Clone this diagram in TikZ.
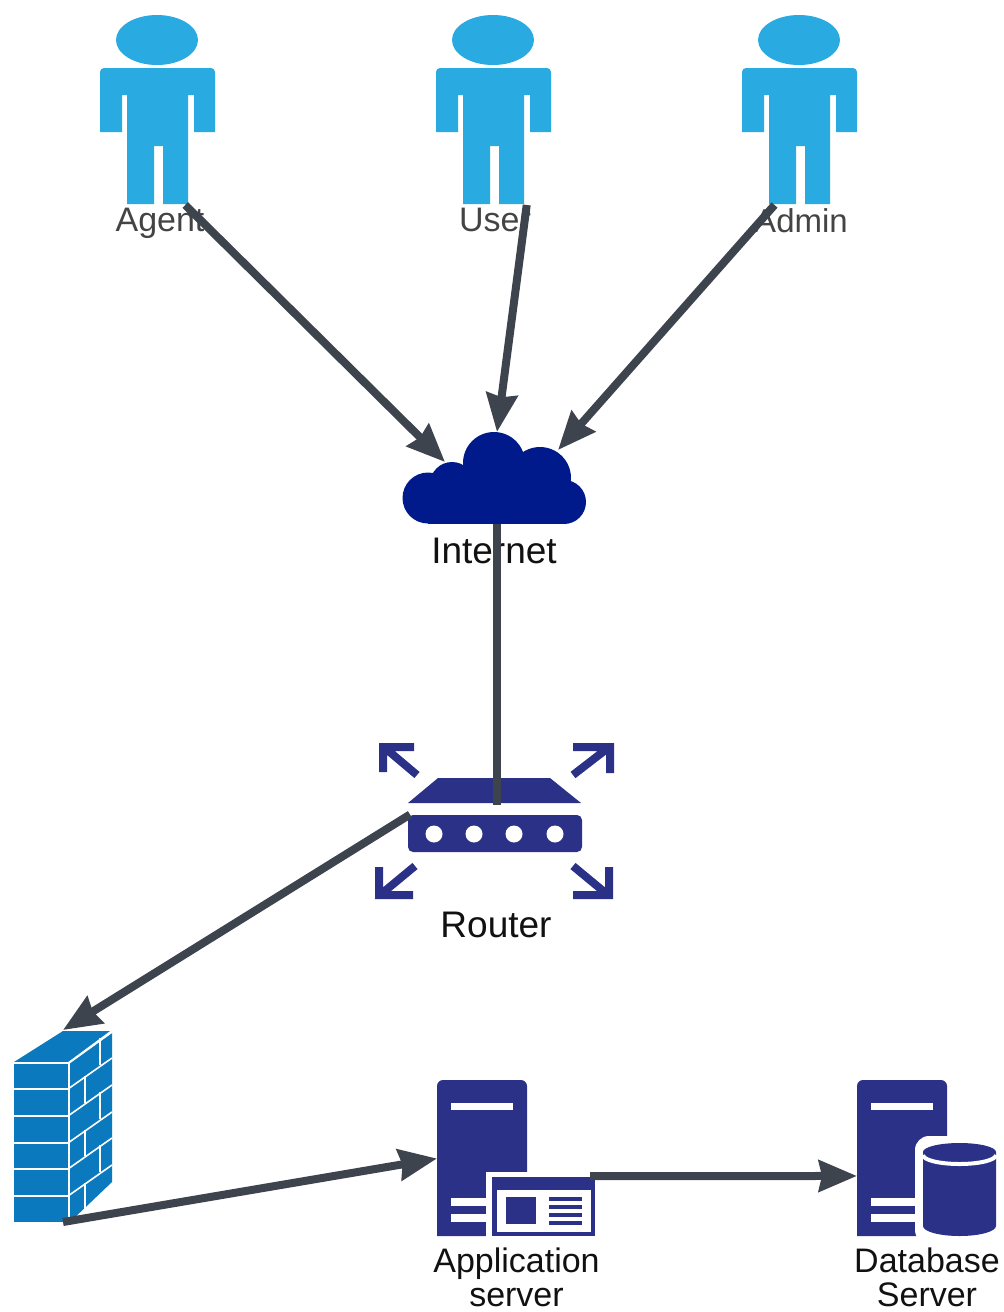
\documentclass[tikz,border=0pt]{standalone}
\usepackage{fontspec}
\setmainfont{Liberation Sans}
\usepackage{xcolor}
\usetikzlibrary{positioning, arrows.meta}
\definecolor{personblue}{HTML}{29ABE2}
\definecolor{cloudblue}{HTML}{001A8C}
\definecolor{iconblue}{HTML}{2B3187}
\definecolor{wallblue}{HTML}{0A79BD}
\definecolor{linegrey}{HTML}{3D444D}
\definecolor{softtext}{HTML}{444444}
\definecolor{darktext}{HTML}{111111}

% person icon, #1 = centre x
\newcommand{\personicon}[1]{
	\begin{scope}[shift={(#1,110)}]
		\fill[personblue] (-1,-70) ellipse [x radius=41, y radius=25];
		\fill[personblue] (-58,22) [rounded corners=4pt] -- (-58,-42) -- (57,-42) [sharp corners] -- (57,22) -- (36,22) -- (36,-15) -- (30,-15) -- (30,94) -- (5,94) -- (5,36) -- (-4,36) -- (-4,94) -- (-31,94) -- (-31,-15) -- (-36,-15) -- (-36,22) -- cycle;
	\end{scope}
}
% server tower, #1 = left x, #2 = length of the lower slots
\newcommand{\servericon}[2]{
	\begin{scope}[shift={(#1,1080)}]
		\fill[iconblue] (0,156) [rounded corners=6pt] -- (0,0) -- (90,0) [sharp corners] -- (90,156) -- cycle;
		\fill[white] (14,23) rectangle (76,30);
		\fill[white] (14,118) rectangle (14+#2,126);
		\fill[white] (14,134) rectangle (14+#2,142);
	\end{scope}
}

\begin{document}
\begin{tikzpicture}[x=1pt, y=-1pt,
	main/.style = {inner sep=0pt, outer sep=0pt},
	tag/.style = {inner sep=0pt, align=center, text=darktext, font=\fontsize{34}{34}\selectfont},
	softtag/.style = {tag, text=softtext},
	link/.style = {draw=linegrey, line width=8pt},
	linkarrow/.style = {link, -{Stealth[length=38pt, width=31pt, inset=3pt]}},
	corner/.style = {draw=iconblue, line width=8pt, miter limit=4}]
	\useasboundingbox (0,0) rectangle (1004,1312);

	\node[main, minimum width=116pt, minimum height=190pt] (agent) at (158,110) {};
	\node[main, minimum width=116pt, minimum height=190pt] (user) at (494,110) {};
	\node[main, minimum width=116pt, minimum height=190pt] (admin) at (800,110) {};
	\node[main, minimum width=178pt, minimum height=92pt] (internet) at (497,478) {};
	\node[main, minimum width=174pt, minimum height=75pt] (router) at (497,814.5) {};
	\node[main, minimum width=98pt, minimum height=192pt] (firewall) at (63,1126) {};
	\node[main, minimum width=153pt, minimum height=157pt] (app) at (513.5,1158.5) {};
	\node[main, minimum width=140pt, minimum height=157pt] (db) at (927,1158.5) {};
	\coordinate (cloudleft) at (445,462);
	\coordinate (cloudright) at (558,450);

	\personicon{158}
	\personicon{494}
	\personicon{800}

	% cloud
	\fill[cloudblue] (428,498) circle [radius=25.5];
	\fill[cloudblue] (452,484) circle [radius=22];
	\fill[cloudblue] (494,463) circle [radius=31];
	\fill[cloudblue] (540,478) circle [radius=31];
	\fill[cloudblue] (564,502) circle [radius=22];
	\fill[cloudblue] (428,480) rectangle (564,524);

	% router
	\fill[iconblue] (438,778) -- (550,778) -- (581,803) -- (408,803) -- cycle;
	\fill[iconblue, rounded corners=5pt] (408,815) rectangle (582,852);
	\foreach \hx in {434,474,514,555}
		\fill[white] (\hx,834) circle [radius=8.5];
	\draw[corner] (417,775) -- (385,748) (414,747) -- (383,747) -- (383,772);
	\draw[corner] (573,775) -- (608,748) (573,747) -- (610,747) -- (610,773);
	\draw[corner] (415,866) -- (380,895) (413,895) -- (379,895) -- (379,867);
	\draw[corner] (573,866) -- (608,895) (573,895) -- (609,895) -- (609,867);

	% firewall
	\fill[wallblue] (14,1064) rectangle (68,1222);
	\fill[wallblue] (14,1062) -- (63,1031) -- (110,1031) -- (68,1062) -- cycle;
	\fill[wallblue] (70,1062) -- (112,1033) -- (112,1182) -- (70,1222) -- cycle;
	\foreach \ry in {1089,1116,1143,1169,1196} {
		\draw[white, line width=1.6pt] (14,\ry) -- (68,\ry);
		\draw[white, line width=1.6pt] (68,\ry) -- (112,\ry-31);
	}
	\foreach \jx/\ja/\jb in {100/1038/1065,85/1076/1103,100/1092/1119,85/1130/1156,100/1145/1172,85/1183/1210}
		\draw[white, line width=1.6pt] (\jx,\ja) -- (\jx,\jb);
	\draw[white, line width=1.6pt] (14,1063) -- (69,1063) -- (112,1032);
	\draw[white, line width=1.6pt] (69,1063) -- (69,1222);

	% application server
	\servericon{437}{35}
	\fill[white] (486,1172) rectangle (600,1240);
	\fill[iconblue] (492,1177) rectangle (595,1236);
	\fill[white] (497,1190) rectangle (591,1232);
	\fill[iconblue] (506,1197) rectangle (536,1224);
	\foreach \ly in {1199,1207,1215,1223}
		\fill[iconblue] (549,\ly-2) rectangle (582,\ly+2);

	% database server
	\servericon{857}{44}
	\fill[white, rounded corners=14pt] (915,1136) rectangle (1012,1244);
	\fill[iconblue] (923,1152) -- (923,1226) arc [start angle=180, end angle=0, x radius=36.5, y radius=10] -- (996,1152) arc [start angle=0, end angle=-180, x radius=36.5, y radius=9] -- cycle;
	\draw[white, line width=4pt] (923,1155) arc [start angle=180, end angle=0, x radius=36.5, y radius=9];

	\node[softtag] (agenttag) [below=3pt of agent, xshift=2pt] {Agent};
	\node[softtag] (usertag) [below=3pt of user, xshift=1pt] {User};
	\node[softtag, font=\fontsize{33}{34}\selectfont] (admintag) [below=3pt of admin, xshift=1pt] {Admin};
	\node[tag, font=\fontsize{37}{37}\selectfont] (internettag) [below=14pt of internet, xshift=-3pt] {Internet};
	\node[tag, font=\fontsize{37}{37}\selectfont] (routertag) [below=60pt of router, xshift=-1pt] {Router};
	\node[tag] (apptag) [below=11pt of app, xshift=3pt] {Application\\server};
	\node[tag] (dbtag) [below=11pt of db] {Database\\Server};

	\draw[linkarrow] (agent.-74) -- (cloudleft);
	\draw[linkarrow] (user.-71) -- (internet.north);
	\draw[linkarrow] (admin.-105) -- (cloudright);
	\draw[link, shorten >=10pt] (internet.south) -- (router.center);
	\draw[linkarrow] (router.west) -- (firewall.north);
	\draw[linkarrow] (firewall.south) -- (app.west);
	\draw[linkarrow] (app.-13.6) -- (db.194.8);
\end{tikzpicture}
\end{document}
